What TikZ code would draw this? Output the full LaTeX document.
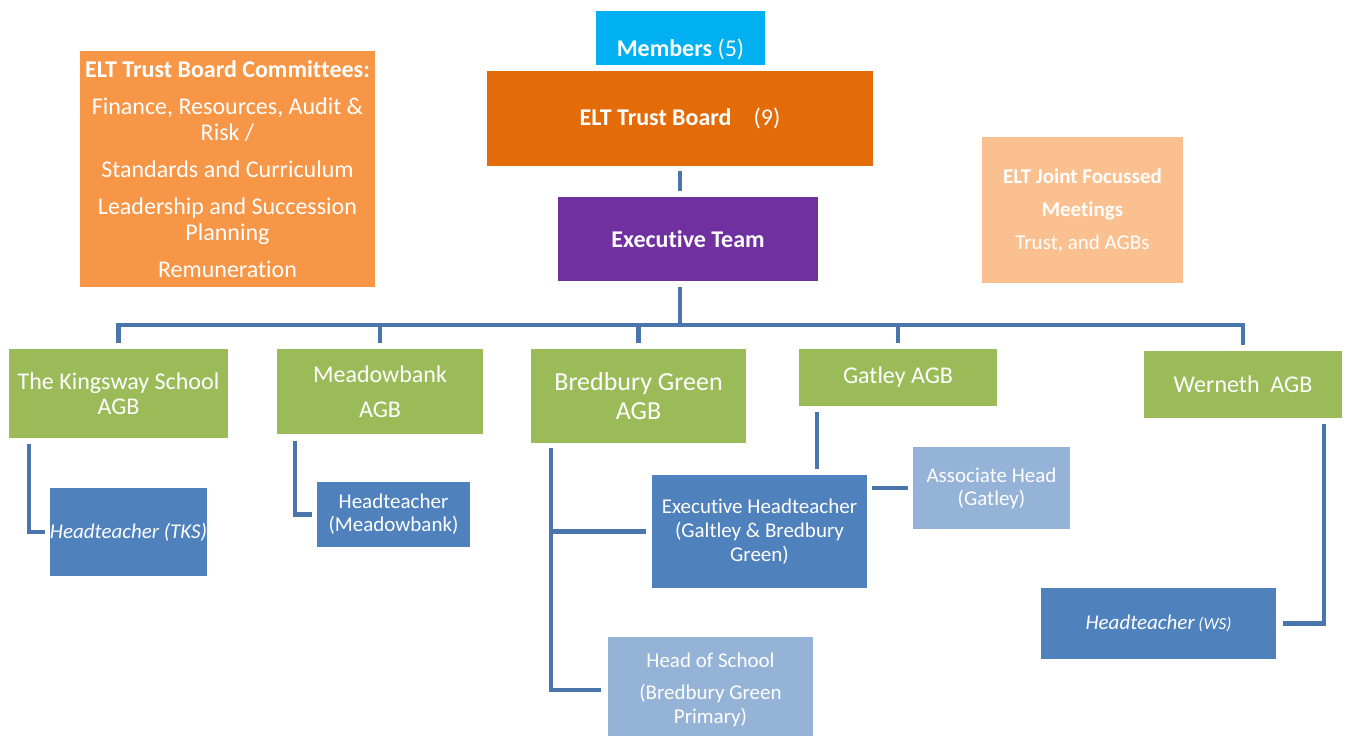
\documentclass[tikz,border=0pt]{standalone}
\usepackage{fontspec}
\setmainfont{Carlito}[RawFeature={-liga;-clig;-calt;-dlig;-rlig}]
\usetikzlibrary{calc}
\definecolor{cMem}{HTML}{00B0F0}
\definecolor{cTB}{HTML}{E36C09}
\definecolor{cET}{HTML}{7030A0}
\definecolor{cCom}{HTML}{F79646}
\definecolor{cJF}{HTML}{FAC08F}
\definecolor{cGrn}{HTML}{9BBB59}
\definecolor{cHT}{HTML}{4F81BD}
\definecolor{cLt}{HTML}{95B3D7}
\definecolor{cLine}{HTML}{4A76AD}
\begin{document}
\begin{tikzpicture}[x=1pt,y=-1pt,
  box/.style={rectangle, inner sep=0pt, outer sep=0pt, text=white, align=center, font=\fontsize{24}{26}\selectfont},
  small/.style={box, font=\fontsize{21}{24}\selectfont},
  conn/.style={draw=cLine, line width=4.5pt}]
\useasboundingbox (0,0) rectangle (1347,736);
% top
\node[box, fill=cMem, minimum width=169pt, minimum height=54pt] (mem) at (680.5,38) {};
\node[box] (memt) at (680.5,49) {\textbf{Members} (5)};
\node[box, fill=cTB, minimum width=386pt, minimum height=95pt] (tb) at (680,118.5) {\textbf{ELT Trust Board}\hspace{22pt}(9)};
\node[box, fill=cET, minimum width=260pt, minimum height=84pt] (et) at (688,239) {\textbf{Execut\kern0pt{}ive Team}};
\node[box, fill=cCom, minimum width=295pt, minimum height=236pt] (com) at (227.5,169)
  {\textbf{ELT Trust Board Commit\kern0pt{}t\kern0pt{}ees:}\\[11pt]
   Finance, Resources, Audit \&\\Risk /\\[11pt]
   Standards and Curriculum\\[11pt]
   Leadership and Succession\\Planning\\[11pt]
   Remuneration};
\node[box, fill=cJF, minimum width=201pt, minimum height=146pt, font=\fontsize{21}{33}\selectfont] (jf) at (1082.5,210)
  {\textbf{ELT Joint Focussed}\\\textbf{Meet\kern0pt{}ings}\\Trust, and AGBs};
% AGBs
\node[box, fill=cGrn, minimum width=219pt, minimum height=89pt, font=\fontsize{24}{25}\selectfont] (kw) at (118.5,393.5) {The Kingsway School\\AGB};
\node[box, fill=cGrn, minimum width=206pt, minimum height=85pt, font=\fontsize{24}{35}\selectfont] (mb) at (380,391.5) {Meadowbank\\AGB};
\node[box, fill=cGrn, minimum width=215pt, minimum height=94pt, font=\fontsize{26}{29}\selectfont] (bg) at (638.5,396) {Bredbury Green\\AGB};
\node[box, fill=cGrn, minimum width=198pt, minimum height=57pt] (gt) at (898,377.5) {Gatley AGB};
\node[box, fill=cGrn, minimum width=198pt, minimum height=67pt] (wn) at (1243,384) {Werneth\ \ AGB};
% heads
\node[small, fill=cHT, minimum width=157pt, minimum height=88pt] (tks) at (128.5,532) {\textit{Headteacher (TKS)}};
\node[small, fill=cHT, minimum width=153pt, minimum height=65pt, font=\fontsize{21}{23}\selectfont] (mht) at (393.5,514.5) {Headteacher\\(Meadowbank)};
\node[small, fill=cHT, minimum width=215pt, minimum height=113pt] (eht) at (759.5,531.5) {Execut\kern0pt{}ive Headteacher\\(Galtley \& Bredbury\\Green)};
\node[small, fill=cLt, minimum width=157pt, minimum height=82pt, font=\fontsize{21}{23}\selectfont] (asc) at (991.5,488) {Associate Head\\(Gatley)};
\node[small, fill=cLt, minimum width=205pt, minimum height=106pt] (hos) at (710.5,690) {Head of School\\[8pt](Bredbury Green\\Primary)};
\node[small, fill=cHT, minimum width=235pt, minimum height=71pt] (ws) at (1158.5,623.5) {\textit{Headteacher}\,{\fontsize{17}{17}\selectfont\textit{(WS)}}};
% connectors
\coordinate (bar) at (680,325);
\draw[conn] ($(tb.south)+(0,5)$) -- ($(tb.south |- et.north)+(0,-6)$);
\draw[conn] ($(tb.south |- et.south)+(0,6)$) -- (tb.south |- bar);
\draw[conn] ($(kw.north)+(0,-6)$) -- (kw.north |- bar) -- (wn.north |- bar) -- ($(wn.north)+(0,-6)$);
\draw[conn] (mb.north |- bar) -- ($(mb.north)+(0,-6)$);
\draw[conn] (bg.north |- bar) -- ($(bg.north)+(0,-6)$);
\draw[conn] (gt.north |- bar) -- ($(gt.north)+(0,-6)$);
\draw[conn] ($(kw.south west)+(20,6)$) |- ($(tks.west)+(-5,0)$);
\draw[conn] ($(mb.south west)+(18,7)$) |- ($(mht.west)+(-5,0)$);
\draw[conn] ($(bg.south west)+(20,5)$) |- ($(hos.west)+(-7,0)$);
\draw[conn] ($(bg.south west |- eht.west)+(20,0)$) -- ($(eht.west)+(-6,0)$);
\draw[conn] ($(gt.south west)+(18,6)$) -- ($(gt.south west |- eht.north)+(18,-6)$);
\draw[conn] ($(asc.west)+(-5,0)$) -- ($(asc.west -| eht.east)+(5,0)$);
\draw[conn] ($(wn.south east)+(-18,6)$) |- ($(ws.east)+(7,0)$);
\end{tikzpicture}
\end{document}
